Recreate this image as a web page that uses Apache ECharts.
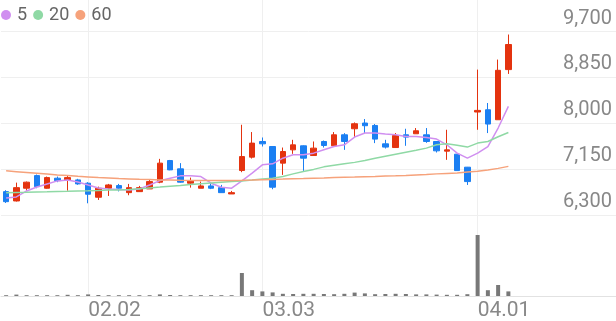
<!DOCTYPE html>
<html>
<head>
<meta charset="utf-8">
<script src="https://cdn.jsdelivr.net/npm/echarts@6/dist/echarts.min.js"></script>
<style>html,body{margin:0;padding:0;background:#fff}#c{width:616px;height:321px}</style>
</head>
<body>
<div id="c"></div>
<script>
const dates = ['01.21','01.22','01.23','01.26','01.27','01.28','01.29','01.30',
 '02.02','02.03','02.04','02.05','02.06','02.09','02.10','02.11','02.12','02.13','02.19','02.20','02.23','02.24','02.25','02.26','02.27',
 '03.03','03.04','03.05','03.06','03.09','03.10','03.11','03.12','03.13','03.16','03.17','03.18','03.19','03.20','03.23','03.24','03.25','03.26','03.27','03.30','03.31',
 '04.01','04.02','04.03','04.06'];
const padding = ['','','','','','','','','',''];
const tickLabels = ['02.02','03.03','04.01'];
const priceTicks = [6300, 7150, 8000, 8850, 9700];
// [open, close, low, high]
const ohlc = [
 [6733,6547,6523,6760],[6560,6807,6550,6900],[6796,6908,6751,6920],[7030,6826,6796,7050],
 [6796,6993,6790,7012],[6982,6937,6908,7012],[6950,6993,6751,7025],[6950,6876,6860,6970],
 [6889,6685,6517,6908],[6629,6796,6579,6826],[6796,6857,6653,6876],[6845,6796,6737,6876],
 [6714,6807,6666,6876],[6733,6807,6733,6839],[6783,6919,6783,6963],[6908,7261,6889,7340],
 [7309,7136,7130,7320],[7155,6908,6900,7261],[6889,6932,6807,6993],[6796,6839,6796,6919],
 [6839,6796,6780,6889],[6807,6714,6714,6858],[6690,6714,6690,6746],[7124,7383,7093,7972],
 [7372,7632,7346,7837],[7662,7619,7569,7736],[7569,6815,6777,7575],[7261,7476,7043,7550],
 [7507,7600,7433,7693],[7582,7353,7117,7590],[7402,7539,7402,7662],[7662,7588,7550,7680],
 [7582,7786,7582,7837],[7786,7662,7507,7817],[7898,7991,7743,8015],[8004,7954,7818,8078],
 [7959,7706,7632,7985],[7619,7558,7532,7693],[7550,7773,7550,7818],[7786,7743,7582,7898],
 [7805,7861,7805,7911],[7786,7662,7637,7911],[7662,7489,7458,7670],[7483,7507,7322,7879],
 [7427,7123,7123,7430],[7186,6919,6857,7190],[8208,8238,7879,8994],[8250,7985,7818,8375],
 [8065,8981,8065,9180],[8994,9459,8914,9644]
];
const ma5 = [6616,6634,6746,6820,6876,6932,6950,6913,6857,6802,6783,6774,6765,6783,6857,6937,6982,7025,7025,7012,
 6889,6815,6796,6932,7075,7229,7248,7353,7415,7415,7446,7508,7569,7601,7744,7818,7818,7799,7786,7755,
 7755,7736,7707,7601,7446,7353,7446,7569,7911,8312];
const ma20 = [6714,6718,6722,6727,6731,6737,6740,6746,6750,6755,6761,6765,6772,6787,6802,6817,6833,6848,6865,6880,
 6895,6908,6921,6932,6950,6969,6982,7012,7062,7105,7145,7192,7220,7248,7275,7309,7350,7387,7424,7461,
 7498,7539,7601,7619,7591,7558,7632,7662,7749,7829];
const ma60 = [7118,7103,7088,7073,7058,7043,7030,7017,7006,6995,6986,6976,6969,6961,6956,6950,6947,6943,6941,6939,
 6937,6937,6939,6943,6948,6954,6960,6965,6971,6976,6982,6987,6993,6999,7004,7010,7015,7021,7026,7034,
 7043,7052,7062,7071,7080,7095,7110,7132,7164,7201];
const volume = [40,70,40,40,40,40,60,40,80,50,40,40,40,40,40,80,50,40,40,40,
 40,40,40,1150,290,230,180,110,100,110,110,100,90,110,170,130,90,100,110,100,
 80,80,70,60,60,90,3050,290,550,230];

const cats = dates.concat(padding);
const UP = '#e4330f', DOWN = '#1b7ff2';
const chart = echarts.init(document.getElementById('c'), null, {renderer: 'canvas'});
const isTick = (i, v) => tickLabels.indexOf(v) >= 0;
chart.setOption({
  animation: false,
  backgroundColor: '#fff',
  textStyle: {fontFamily: 'Roboto'},
  legend: {
    data: ['5', '20', '60'], left: 1, top: 6, padding: 0,
    icon: 'circle', itemWidth: 10, itemHeight: 10, itemGap: 6,
    textStyle: {fontSize: 18, color: '#666', fontFamily: 'Roboto', padding: [0, 0, 0, 1]}
  },
  grid: [
    {left: 1, right: 0, top: 31.5, height: 183.5},
    {left: 1, right: 0, top: 225, bottom: 25},
    {left: 6.125, right: 5.125, top: 0, bottom: 25}
  ],
  xAxis: [
    {type: 'category', data: cats, gridIndex: 0, boundaryGap: true, axisLine: {show: false}, axisTick: {show: false}, axisLabel: {show: false}, splitLine: {show: false}},
    {type: 'category', data: cats, gridIndex: 1, boundaryGap: true, axisLine: {show: true, lineStyle: {color: '#e2e2e2', width: 1}}, axisTick: {show: false}, axisLabel: {show: false}, splitLine: {show: false}},
    {type: 'category', data: cats, gridIndex: 2, boundaryGap: false, axisLine: {show: false}, axisTick: {show: false},
      splitLine: {show: true, interval: isTick, lineStyle: {color: '#efefef', width: 1}},
      axisLabel: {show: true, interval: isTick, align: 'left', margin: 6, fontSize: 21, color: '#888', fontFamily: 'Roboto'}}
  ],
  yAxis: [
    {type: 'value', gridIndex: 0, position: 'right', min: priceTicks[0], max: priceTicks[priceTicks.length - 1], interval: priceTicks[1] - priceTicks[0],
      axisLine: {show: false}, axisTick: {show: false},
      splitLine: {show: true, lineStyle: {color: '#efefef', width: 1}},
      axisLabel: {inside: true, margin: 4, fontSize: 20, color: '#888', fontFamily: 'Roboto', verticalAlign: 'bottom', lineHeight: 20, padding: [0, 0, 3, 0],
        formatter: v => v.toLocaleString('en-US')}},
    {type: 'value', gridIndex: 1, min: 0, max: 3550, show: false, splitLine: {show: false}},
    {type: 'value', gridIndex: 2, min: 0, max: 1, show: false, splitLine: {show: false}}
  ],
  series: [
    {type: 'candlestick', name: 'price', xAxisIndex: 0, yAxisIndex: 0, data: ohlc, barWidth: 6,
      itemStyle: {color: UP, color0: DOWN, borderColor: UP, borderColor0: DOWN, borderWidth: 1}},
    {type: 'line', name: '5', xAxisIndex: 0, yAxisIndex: 0, data: ma5, symbol: 'none', color: '#d08ff0', lineStyle: {width: 1.5, color: '#d08ff0'}, z: 3},
    {type: 'line', name: '20', xAxisIndex: 0, yAxisIndex: 0, data: ma20, symbol: 'none', color: '#8fd9a5', lineStyle: {width: 1.5, color: '#8fd9a5'}, z: 3},
    {type: 'line', name: '60', xAxisIndex: 0, yAxisIndex: 0, data: ma60, symbol: 'none', color: '#f6a27b', lineStyle: {width: 1.5, color: '#f6a27b'}, z: 3},
    {type: 'bar', name: 'vol', xAxisIndex: 1, yAxisIndex: 1, data: volume, barWidth: 4, itemStyle: {color: '#787878'}}
  ]
});
</script>
</body>
</html>
